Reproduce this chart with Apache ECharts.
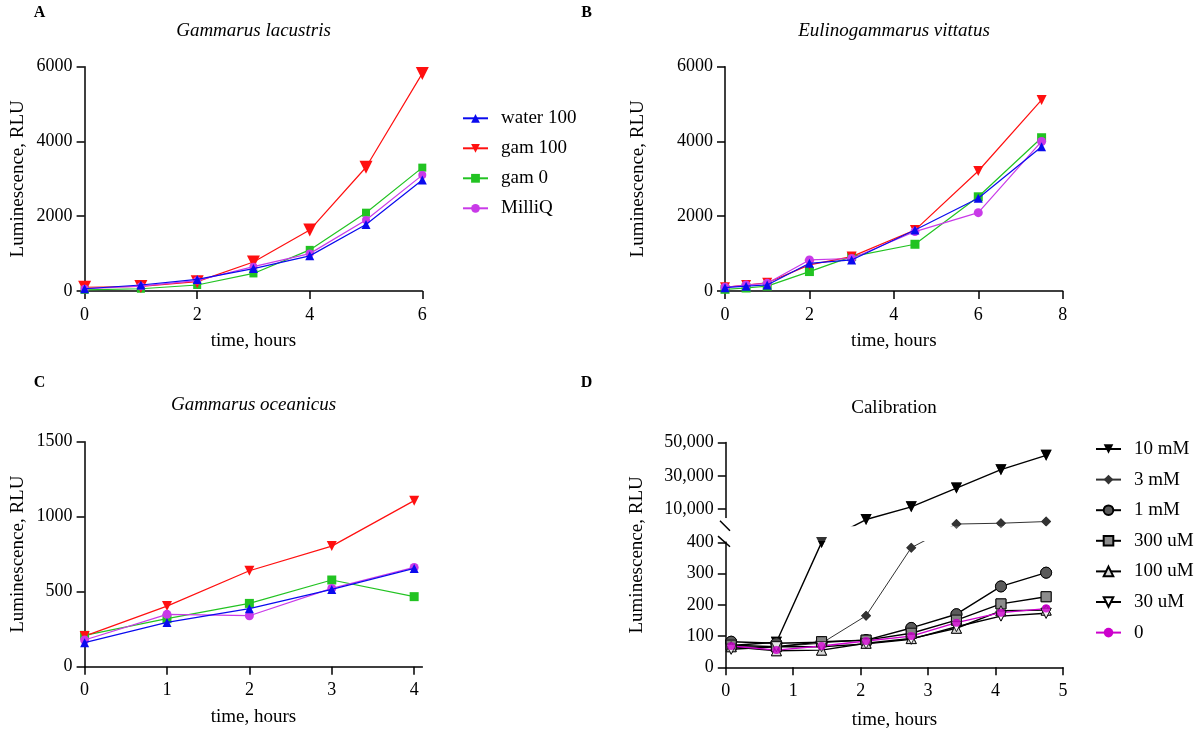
<!DOCTYPE html>
<html>
<head>
<meta charset="utf-8">
<script src="https://cdn.jsdelivr.net/npm/echarts@6/dist/echarts.min.js"></script>
<style>
html, body { margin: 0; padding: 0; background: #fff; }
#chart { width: 1200px; height: 734px; }
</style>
</head>
<body>
<div id="chart"></div>
<script>
// ---- data ----
const hoursA = [0, 1, 2, 3, 4, 5, 6];
const aWater100 = [60, 160, 310, 600, 940, 1780, 2970];
const aGam100 = [100, 120, 250, 775, 1630, 3310, 5820];
const aGam0 = [30, 60, 160, 470, 1100, 2095, 3300];
const aMilliQ = [60, 130, 280, 650, 1000, 1900, 3100];

const hoursB = [0, 0.5, 1, 2, 3, 4.5, 6, 7.5];
const bWater100 = [90, 130, 160, 740, 830, 1630, 2480, 3860];
const bGam100 = [100, 160, 220, 700, 920, 1630, 3210, 5110];
const bGam0 = [45, 80, 130, 520, 920, 1250, 2520, 4100];
const bMilliQ = [100, 160, 205, 830, 870, 1590, 2095, 4000];

const hoursC = [0, 1, 2, 3, 4];
const cWater100 = [160, 295, 387, 515, 655];
const cGam100 = [204, 404, 640, 804, 1107];
const cGam0 = [209, 320, 422, 578, 467];
const cMilliQ = [178, 349, 340, 522, 662];

const hoursD = [0.08, 0.75, 1.42, 2.08, 2.75, 3.42, 4.08, 4.75];
const d10mM = [70, 80, 400, 3820, 11400, 22700, 33700, 42300];
const d3mM = [66, 66, 77, 165, 383, 1100, 1600, 2600];
const d1mM = [82, 77, 80, 87, 126, 170, 259, 303];
const d300uM = [71, 66, 82, 87, 109, 151, 203, 226];
const d100uM = [66, 53, 55, 77, 92, 125, 181, 183];
const d30uM = [58, 66, 66, 75, 90, 130, 164, 173];
const d0 = [68, 55, 68, 84, 100, 143, 175, 188];

const namesABC = ['water 100', 'gam 100', 'gam 0', 'MilliQ'];
const namesD = ['10 mM', '3 mM', '1 mM', '300 uM', '100 uM', '30 uM', '0'];
const ticksC = [0, 1, 2, 3, 4];
const upperTicksD = [10000, 30000, 50000];
const lowerTicksD = [0, 100, 200, 300, 400];

// ---- broken axis for panel D: 0-400 linear, then a gap, then 400-50000 squeezed ----
const LOWER_MAX = 400;
const GAP = 55;
const UPPER_K = 0.00534;
const UPPER_AXIS_START = 4700;
const toD = v => v <= LOWER_MAX ? v : LOWER_MAX + GAP + (v - LOWER_MAX) * UPPER_K;
const fromD = d => d <= LOWER_MAX ? d : LOWER_MAX + (d - LOWER_MAX - GAP) / UPPER_K;
const D_MAX = toD(50000);

const FONT = 'Liberation Serif';
const DOWN = 'path://M0,0L20,0L10,17.32Z';
const AXLS = { color: '#000', width: 1.5 };
const NAME_TXT = { color: '#000', fontFamily: FONT, fontSize: 19 };

const pairs = (xs, ys, f) => xs.map((x, i) => [x, f ? f(ys[i]) : ys[i]]);
const commas = n => String(n).replace(/\B(?=(\d{3})+(?!\d))/g, ',');
const plain = v => String(v);

function axis(gridIndex, extra, tick, label) {
  return Object.assign({
    gridIndex: gridIndex,
    type: 'value',
    nameLocation: 'middle',
    nameTextStyle: NAME_TXT,
    axisLine: { lineStyle: AXLS },
    axisTick: Object.assign({ length: 8, lineStyle: AXLS }, tick || {}),
    axisLabel: Object.assign({ color: '#000', fontFamily: FONT, fontSize: 18, margin: 12,
      formatter: plain }, label || {}),
    splitLine: { show: false }
  }, extra);
}

const grids = [
  { left: 84.6, top: 66.7, width: 337.7, height: 224.3 },
  { left: 725, top: 66.7, width: 337.7, height: 224.3 },
  { left: 84.6, top: 441.7, width: 337.8, height: 225 },
  { left: 725.8, top: 442.5, width: 337.2, height: 224.8 }
];

const xLabel = { margin: 15 };
const xAxes = [
  axis(0, { min: 0, max: 6, interval: 2, name: 'time, hours', nameGap: 41 }, null, xLabel),
  axis(1, { min: 0, max: 8, interval: 2, name: 'time, hours', nameGap: 41 }, null, xLabel),
  axis(2, { min: 0, max: 4.1, name: 'time, hours', nameGap: 41 },
    { customValues: ticksC }, { customValues: ticksC, margin: 15 }),
  axis(3, { min: 0, max: 5, interval: 1, name: 'time, hours', nameGap: 43 }, null, xLabel)
];

const dTickVals = lowerTicksD.concat(upperTicksD.map(toD));
const yAxes = [
  axis(0, { min: 0, max: 6000, interval: 2000, name: 'Luminescence, RLU', nameGap: 57 }),
  axis(1, { min: 0, max: 6000, interval: 2000, name: 'Luminescence, RLU', nameGap: 77 }),
  axis(2, { min: 0, max: 1500, interval: 500, name: 'Luminescence, RLU', nameGap: 57 }),
  axis(3, { min: 0, max: D_MAX, name: 'Luminescence, RLU', nameGap: 79 },
    { customValues: dTickVals },
    {
      customValues: dTickVals,
      formatter: v => v <= LOWER_MAX + 0.5 ? String(Math.round(v))
        : commas(Math.round(fromD(v) / 1000) * 1000)
    })
];

// colours / markers for panels A-C
const styleABC = {
  'water 100': { color: '#0a0aee', symbol: 'triangle', sizeA: 9, size: 9, z: 4 },
  'gam 100': { color: '#ff1010', symbol: DOWN, sizeA: 13, size: 10, z: 2 },
  'gam 0': { color: '#22c322', symbol: 'rect', sizeA: 8, size: 9, z: 2 },
  'MilliQ': { color: '#c93ae8', symbol: 'circle', sizeA: 8, size: 9, z: 3 }
};

function seriesABC(panel, hours, lists) {
  return namesABC.map((name, k) => {
    const s = styleABC[name];
    return {
      type: 'line', name: name, xAxisIndex: panel, yAxisIndex: panel,
      data: pairs(hours, lists[k]),
      symbol: s.symbol, symbolSize: panel === 0 ? s.sizeA : s.size,
      itemStyle: { color: s.color },
      lineStyle: { color: s.color, width: 1.2 },
      z: s.z, clip: false, animation: false
    };
  });
}

// panel D styles
const styleD = [
  { symbol: DOWN, size: 11, fill: '#000', line: '#000', lw: 1.4 },
  { symbol: 'diamond', size: 10, fill: '#333', line: '#333', lw: 1 },
  { symbol: 'circle', size: 11, fill: '#5a5a5a', line: '#000', lw: 1.4, border: '#000' },
  { symbol: 'rect', size: 10, fill: '#8c8c8c', line: '#000', lw: 1.4, border: '#000' },
  { symbol: 'triangle', size: 10, fill: '#d9d9d9', line: '#000', lw: 1.4, border: '#000' },
  { symbol: DOWN, size: 10, fill: '#ffffff', line: '#000', lw: 1.4, border: '#000' },
  { symbol: 'circle', size: 8, fill: '#cc00cc', line: '#cc00cc', lw: 1.4 }
];
const listsD = [d10mM, d3mM, d1mM, d300uM, d100uM, d30uM, d0];

function itemStyleD(s) {
  return s.border ? { color: s.fill, borderColor: s.border, borderWidth: 1 } : { color: s.fill };
}

const seriesD = namesD.map((name, k) => ({
  type: 'line', name: name, xAxisIndex: 3, yAxisIndex: 3,
  data: pairs(hoursD, listsD[k], toD),
  symbol: styleD[k].symbol, symbolSize: styleD[k].size,
  itemStyle: itemStyleD(styleD[k]),
  lineStyle: { color: styleD[k].line, width: styleD[k].lw },
  z: 2, clip: false, animation: false
}));
// markers again on top of the white gap mask
const pointsD = namesD.map((name, k) => ({
  type: 'scatter', name: name + ' pts', xAxisIndex: 3, yAxisIndex: 3,
  data: pairs(hoursD, listsD[k], toD),
  symbol: styleD[k].symbol, symbolSize: styleD[k].size,
  itemStyle: itemStyleD(styleD[k]),
  z: 4, silent: true, animation: false
}));

const legendText = { color: '#000', fontFamily: FONT, fontSize: 19, lineHeight: 20, padding: [0, 0, 0, 8] };

const chart = echarts.init(document.getElementById('chart'), null, { renderer: 'canvas' });
chart.setOption({
  backgroundColor: '#fff',
  animation: false,
  grid: grids,
  xAxis: xAxes,
  yAxis: yAxes,
  legend: [
    { data: namesABC, orient: 'vertical', left: 457, top: 103.3, itemWidth: 25, itemHeight: 11,
      itemGap: 10, textStyle: legendText, selectedMode: false },
    { data: namesD, orient: 'vertical', left: 1090, top: 434, itemWidth: 25, itemHeight: 12,
      itemGap: 10.6, textStyle: legendText, selectedMode: false }
  ],
  series: []
    .concat(seriesABC(0, hoursA, [aWater100, aGam100, aGam0, aMilliQ]).reverse())
    .concat(seriesABC(1, hoursB, [bWater100, bGam100, bGam0, bMilliQ]).reverse())
    .concat(seriesABC(2, hoursC, [cWater100, cGam100, cGam0, cMilliQ]).reverse())
    .concat(seriesD)
    .concat(pointsD)
});

// titles, panel letters and the axis break marks
function label(text, x, y, size, style, weight) {
  return {
    type: 'text', z: 6, silent: true,
    style: { text: text, x: x, y: y, align: 'center', verticalAlign: 'middle',
      fontFamily: FONT, fontSize: size, fontStyle: style || 'normal',
      fontWeight: weight || 'normal', fill: '#000' }
  };
}

const [axX, yLowTop] = chart.convertToPixel({ gridIndex: 3 }, [0, LOWER_MAX]);
const yUpBot = chart.convertToPixel({ gridIndex: 3 }, [0, LOWER_MAX + GAP])[1];
const yUpEnd = chart.convertToPixel({ gridIndex: 3 }, [0, toD(UPPER_AXIS_START)])[1];
const xRight = chart.convertToPixel({ gridIndex: 3 }, [5, 0])[0];

chart.setOption({
  graphic: [
    label('Gammarus lacustris', 253.5, 31, 19, 'italic'),
    label('Eulinogammarus vittatus', 894, 31, 19, 'italic'),
    label('Gammarus oceanicus', 253.5, 405, 19, 'italic'),
    label('Calibration', 894, 408, 19),
    label('A', 39.5, 13, 16, 'normal', 'bold'),
    label('B', 586.5, 13, 16, 'normal', 'bold'),
    label('C', 39.5, 383, 16, 'normal', 'bold'),
    label('D', 586.5, 383, 16, 'normal', 'bold'),
    { type: 'rect', z: 3, silent: true,
      shape: { x: axX + 1, y: yUpBot + 1, width: xRight - axX + 20, height: yLowTop - yUpBot - 2.5 },
      style: { fill: '#fff' } },
    { type: 'rect', z: 3, silent: true,
      shape: { x: axX - 3, y: yUpEnd, width: 6, height: yLowTop - yUpEnd - 0.8 },
      style: { fill: '#fff' } },
    { type: 'line', z: 5, silent: true,
      shape: { x1: axX - 5.8, y1: yUpEnd + 2.7, x2: axX + 4.2, y2: yUpEnd + 12.7 },
      style: { stroke: '#000', lineWidth: 1.5 } },
    { type: 'line', z: 5, silent: true,
      shape: { x1: axX - 7.8, y1: yLowTop - 6.3, x2: axX + 4.2, y2: yLowTop + 4.4 },
      style: { stroke: '#000', lineWidth: 1.5 } }
  ]
});
</script>
</body>
</html>
